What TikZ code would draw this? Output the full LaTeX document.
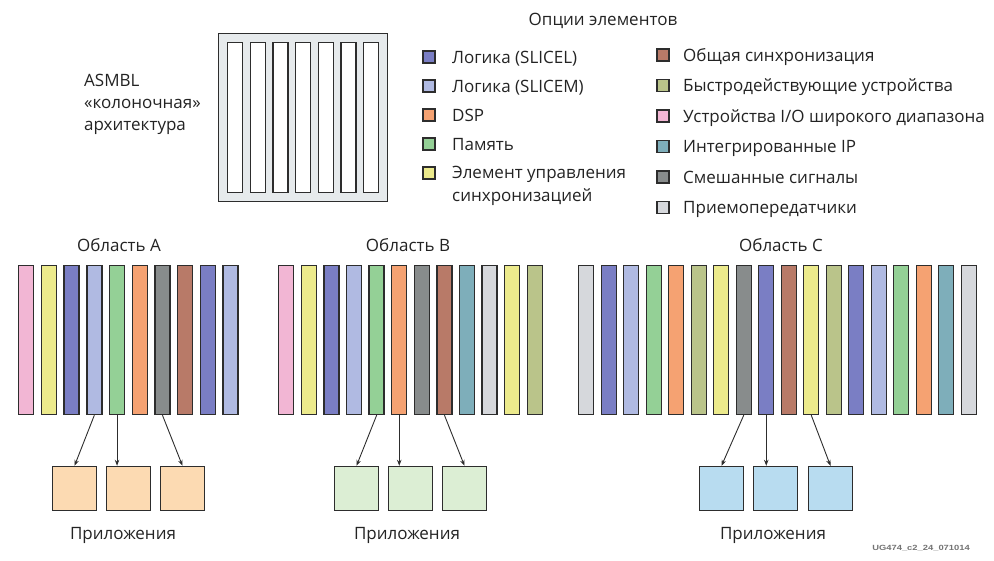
\documentclass[tikz,border=0pt]{standalone}
\usepackage{fontspec}
\usepackage{graphicx}
\setmainfont{Open Sans}
\newfontfamily\tagfont{Liberation Sans}
\usetikzlibrary{arrows.meta}

% column type colours
\definecolor{cPink}{RGB}{242,182,212}
\definecolor{cYellow}{RGB}{236,234,140}
\definecolor{cSliceL}{RGB}{122,126,196}
\definecolor{cSliceM}{RGB}{176,186,226}
\definecolor{cGreen}{RGB}{148,208,150}
\definecolor{cOrange}{RGB}{245,162,114}
\definecolor{cMixed}{RGB}{136,140,140}
\definecolor{cBrown}{RGB}{184,122,104}
\definecolor{cTeal}{RGB}{126,174,186}
\definecolor{cXcvr}{RGB}{214,216,220}
\definecolor{cOlive}{RGB}{186,196,138}
% application block fills
\definecolor{appA}{RGB}{252,218,178}
\definecolor{appB}{RGB}{220,238,212}
\definecolor{appC}{RGB}{184,220,240}
\definecolor{lineC}{RGB}{45,45,45}
\definecolor{textC}{RGB}{35,35,35}
\definecolor{frameFill}{RGB}{230,234,236}

\begin{document}
\begin{tikzpicture}[x=1pt,y=-1pt,
  col/.style={draw=lineC, line width=1.4pt, minimum width=15pt, minimum height=149pt, inner sep=0pt},
  appbox/.style={draw=lineC, line width=1.4pt, minimum size=44pt, inner sep=0pt},
  link/.style={draw=lineC, line width=0.9pt, -{Stealth[length=6pt,width=4.5pt]}},
  swatch/.style={draw=lineC, line width=1.6pt, minimum size=12pt, inner sep=0pt},
  lbl/.style={font=\fontsize{17}{20}\selectfont, text=textC, inner sep=0pt},
  slot/.style={draw=lineC, line width=1.2pt, fill=white, minimum width=15pt, minimum height=150pt, inner sep=0pt}
]
\useasboundingbox (0,0) rectangle (994,560);

% ---- ASMBL column frame ----
\node[draw=lineC, line width=1.4pt, fill=frameFill, minimum width=169pt, minimum height=168pt, inner sep=0pt] (frame) at (303,117.5) {};
\foreach \i in {1,...,7}
  \node[slot] (slot\i) at ({235+22.7*(\i-1)},117.5) {};

% multi-line node: its base is the baseline of the last line
\node[lbl, anchor=base west, align=left, font=\fontsize{17}{22}\selectfont] (asmbl) at (84,130)
  {ASMBL\\«колоночная»\\архитектура};

% ---- legend ----
\node[lbl, anchor=base] (legtitle) at (603,25) {Опции элементов};

\foreach \c/\t [count=\i] in {cSliceL/{Логика (SLICEL)}, cSliceM/{Логика (SLICEM)}, cOrange/DSP, cGreen/Память}
{
  \node[swatch, fill=\c] (sw\i) at (429,{57+29*(\i-1)}) {};
  \node[lbl, anchor=base west] (lt\i) at (452,{57+29*(\i-1)+6}) {\t};
}
\node[swatch, fill=cYellow] (sw5) at (429,173) {};
\node[lbl, anchor=base west, align=left, font=\fontsize{17}{23}\selectfont] (lt5) at (452,201.5)
  {Элемент управления\\синхронизацией};

\foreach \c/\t [count=\i] in {cBrown/{Общая синхронизация}, cOlive/{Быстродействующие устройства},
    cPink/{Устройства I/O широкого диапазона}, cTeal/{Интегрированные IP},
    cMixed/{Смешанные сигналы}, cXcvr/{Приемопередатчики}}
{
  \node[swatch, fill=\c] (sr\i) at (663,{55+30.5*(\i-1)}) {};
  \node[lbl, anchor=base west] (rt\i) at (683,{55+30.5*(\i-1)+6}) {\t};
}

% ---- region A ----
\node[lbl, anchor=base] (titleA) at (119,251) {Область A};
\foreach \c [count=\i] in {cPink,cYellow,cSliceL,cSliceM,cGreen,cOrange,cMixed,cBrown,cSliceL,cSliceM}
  \node[col, fill=\c] (A\i) at ({26.25+22.7*(\i-1)},340) {};
\node[appbox, fill=appA] (Aa1) at (74.5,488.5) {};
\node[appbox, fill=appA] (Aa2) at (128.5,488.5) {};
\node[appbox, fill=appA] (Aa3) at (182.5,488.5) {};
\draw[link] (A4.south) -- (Aa1.north);
\draw[link] (A5.south) -- (A5.south |- Aa2.north);
\draw[link] (A7.south) -- (Aa3.north);
\node[lbl, anchor=base] (appLabelA) at (123,539) {Приложения};

% ---- region B ----
\node[lbl, anchor=base] (titleB) at (408,251) {Область B};
\foreach \c [count=\i] in {cPink,cYellow,cSliceL,cSliceM,cGreen,cOrange,cMixed,cBrown,cTeal,cXcvr,cYellow,cOlive}
  \node[col, fill=\c] (B\i) at ({286.25+22.6*(\i-1)},340) {};
\node[appbox, fill=appB] (Bb1) at (356.5,488.5) {};
\node[appbox, fill=appB] (Bb2) at (410.5,488.5) {};
\node[appbox, fill=appB] (Bb3) at (464.5,488.5) {};
\draw[link] (B5.south) -- (Bb1.north);
\draw[link] (B6.south) -- (B6.south |- Bb2.north);
\draw[link] (B8.south) -- (Bb3.north);
\node[lbl, anchor=base] (appLabelB) at (407,539) {Приложения};

% ---- region C ----
\node[lbl, anchor=base] (titleC) at (781,251) {Область C};
\foreach \c [count=\i] in {cXcvr,cSliceL,cSliceM,cGreen,cOrange,cOlive,cYellow,cMixed,cSliceL,cBrown,cYellow,cOlive,cSliceL,cSliceM,cGreen,cOrange,cTeal,cXcvr}
  \node[col, fill=\c] (C\i) at ({586.25+22.5*(\i-1)},340) {};
\node[appbox, fill=appC] (Cc1) at (721.5,488.5) {};
\node[appbox, fill=appC] (Cc2) at (775.5,488.5) {};
\node[appbox, fill=appC] (Cc3) at (830.5,488.5) {};
\draw[link] (C8.south) -- (Cc1.north);
\draw[link] (C9.south) -- (C9.south |- Cc2.north);
\draw[link] (C11.south) -- (Cc3.north);
\node[lbl, anchor=base] (appLabelC) at (773,539) {Приложения};

% ---- figure tag ----
\node[anchor=base east, inner sep=0pt, text=black!55, font=\tagfont\bfseries\fontsize{7.5}{9}\selectfont] (figtag) at (970,550)
  {\scalebox{1.25}[1]{UG474\_c2\_24\_071014}};
\end{tikzpicture}
\end{document}
